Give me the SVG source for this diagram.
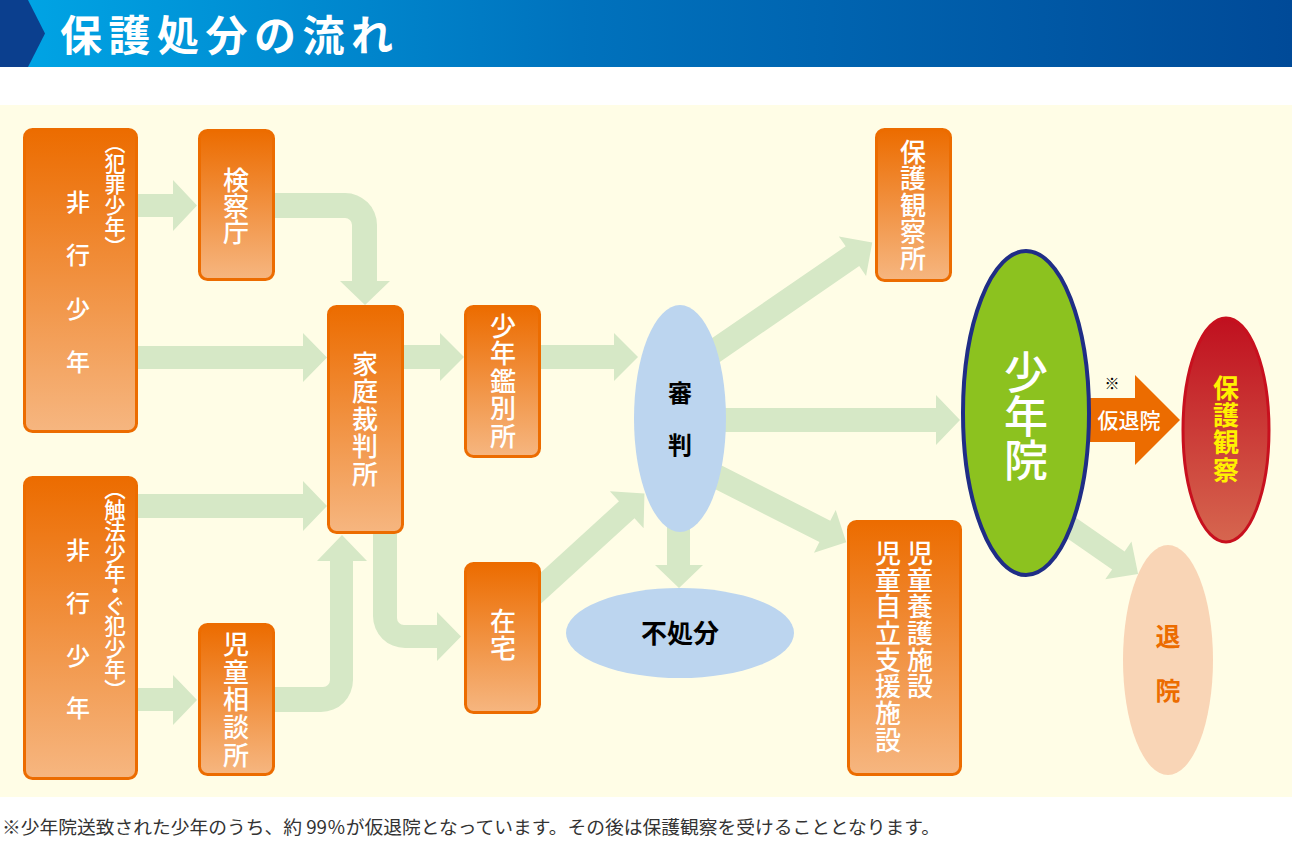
<svg xmlns="http://www.w3.org/2000/svg" width="1292" height="842" viewBox="0 0 1292 842">
<defs>
<linearGradient id="hdr" x1="0" y1="0" x2="1" y2="0">
<stop offset="0" stop-color="#00a6e6"/>
<stop offset="0.45" stop-color="#0072bd"/>
<stop offset="1" stop-color="#004a98"/>
</linearGradient>
<linearGradient id="box" x1="0" y1="0" x2="0" y2="1">
<stop offset="0" stop-color="#ec6c00"/>
<stop offset="1" stop-color="#f6b680"/>
</linearGradient>
<linearGradient id="red" x1="0" y1="0" x2="0" y2="1">
<stop offset="0" stop-color="#c0101f"/>
<stop offset="1" stop-color="#d6664f"/>
</linearGradient>
<style>
.bx{fill:url(#box);stroke:#ec6c00;stroke-width:3}
.ar{fill:#d6e8c6}
.t{font-family:"Noto Sans CJK JP","Noto Sans CJK SC",sans-serif}
.v{writing-mode:vertical-rl;font-family:"Noto Sans CJK JP","Noto Sans CJK SC",sans-serif}
.w{fill:#ffffff;font-weight:500}
.p{font-feature-settings:"vpal"}
</style>
</defs>
<rect x="0" y="0" width="1292" height="842" fill="#ffffff"/>
<g id="header">
<rect x="0" y="0" width="1292" height="67" fill="url(#hdr)"/>
<polygon points="0,0 28,0 45,33.5 28,67 0,67" fill="#0b3f8e"/>
<text class="t" x="60" y="51" font-size="42" font-weight="bold" fill="#ffffff" letter-spacing="6.5">保護処分の流れ</text>
</g>
<rect x="0" y="105" width="1292" height="692" fill="#fffde6"/>
<g id="connectors">
<path class="ar" d="M137,194 H173 V180 L197,205.5 L173,231 V217 H137 Z"/>
<path class="ar" d="M137,346 H303 V333 L327,357.5 L303,382 V369 H137 Z"/>
<path class="ar" d="M274,193 H345 A32,32 0 0 1 377,225 V281 H390 L365,305 L340,281 H352 V225 A7,7 0 0 0 345,218 H274 Z"/>
<path class="ar" d="M137,494 H303 V481 L327,506 L303,531 V518 H137 Z"/>
<path class="ar" d="M137,688 H173 V675 L197,700 L173,725 V711 H137 Z"/>
<path class="ar" d="M274,687 H323 A7,7 0 0 0 330,680 V561 H317 L342,535 L367,561 H353 V680 A32,32 0 0 1 321,712 H274 Z"/>
<path class="ar" d="M373,530 H397 V618 A7,7 0 0 0 404,625 H437 V612 L461,636.5 L437,661 V648 H405 A32,32 0 0 1 373,616 Z"/>
<path class="ar" d="M403,345 H440 V333 L464,357 L440,381 V369 H403 Z"/>
<path class="ar" d="M540,345 H614 V333 L638,357 L614,381 V369 H540 Z"/>
<path class="ar" transform="translate(530,598) rotate(-42.4)" d="M0,-11.5 H131 V-25 L155,0 L131,25 V11.5 H0 Z"/>
<path class="ar" d="M667,515 H690 V565 H703 L679,588 L655,565 H667 Z"/>
<path class="ar" transform="translate(700,361) rotate(-34.5)" d="M0,-12 H185 V-24 L209,0 L185,24 V12 H0 Z"/>
<path class="ar" d="M715,408 H936 V395 L960,420 L936,445 V432 H715 Z"/>
<path class="ar" transform="translate(700,468) rotate(26.9)" d="M0,-12 H140 V-24 L164,0 L140,24 V12 H0 Z"/>
<path class="ar" transform="translate(1060,520) rotate(34.7)" d="M0,-11 H71 V-23 L95,0 L71,23 V11 H0 Z"/>
<path d="M1085,398 H1135 V375 L1180,420 L1135,465 V442 H1085 Z" fill="#ec6c00"/>
<text class="t" x="1129" y="428" font-size="21" font-weight="500" fill="#ffffff" text-anchor="middle">仮退院</text>
<text class="t" x="1112" y="389" font-size="15" fill="#000000" text-anchor="middle">※</text>
</g>
<g id="n-hikou1">
<rect class="bx" x="24.5" y="129.5" width="112" height="302" rx="8"/>
<text class="v w p" x="115" y="142" font-size="21">（犯罪少年）</text>
<text class="v w" x="78" y="190" font-size="24" letter-spacing="29.3">非行少年</text>
</g>
<g id="n-kensatsu">
<rect class="bx" x="199.5" y="130.5" width="74" height="149" rx="8"/>
<text class="v w" x="236" y="167" font-size="26">検察庁</text>
</g>
<g id="n-hikou2">
<rect class="bx" x="24.5" y="477.5" width="112" height="301" rx="8"/>
<text class="v w p" x="115" y="488" font-size="21.5">（触法少年・ぐ犯少年）</text>
<text class="v w" x="78" y="538" font-size="24" letter-spacing="28.7">非行少年</text>
</g>
<g id="n-jidousoudan">
<rect class="bx" x="199.5" y="624.5" width="74" height="150" rx="8"/>
<text class="v w" x="236" y="631" font-size="26" letter-spacing="1.75">児童相談所</text>
</g>
<g id="n-katei">
<rect class="bx" x="328.5" y="306.5" width="74" height="226" rx="8"/>
<text class="v w" x="365" y="351" font-size="26" letter-spacing="1.5">家庭裁判所</text>
</g>
<g id="n-kanbetsu">
<rect class="bx" x="465.5" y="306.5" width="74" height="150" rx="8"/>
<text class="v w" x="503" y="313" font-size="26" letter-spacing="1.5">少年鑑別所</text>
</g>
<g id="n-zaitaku">
<rect class="bx" x="465.5" y="563.5" width="74" height="149" rx="8"/>
<text class="v w" x="503" y="608" font-size="26" letter-spacing="1">在宅</text>
</g>
<g id="n-shinpan">
<ellipse cx="680" cy="418.5" rx="46" ry="113.5" fill="#bcd5ef"/>
<text class="v" x="680" y="381" font-size="24" font-weight="bold" letter-spacing="28" fill="#000000">審判</text>
</g>
<g id="n-fushobun">
<ellipse cx="680" cy="633" rx="114" ry="45" fill="#bcd5ef"/>
<text class="t" x="680" y="643" font-size="26" font-weight="bold" fill="#000000" text-anchor="middle">不処分</text>
</g>
<g id="n-hogokansatsujo">
<rect class="bx" x="876.5" y="129.5" width="74" height="151" rx="8"/>
<text class="v w" x="913" y="139" font-size="26" letter-spacing="0.5">保護観察所</text>
</g>
<g id="n-shisetsu">
<rect class="bx" x="848.5" y="521.5" width="112" height="253" rx="8"/>
<text class="v w" x="920" y="540" font-size="26" letter-spacing="0.7">児童養護施設</text>
<text class="v w" x="888" y="540" font-size="26" letter-spacing="0.7">児童自立支援施設</text>
</g>
<g id="n-shounenin">
<ellipse cx="1026" cy="413" rx="63" ry="162" fill="#8cc21f" stroke="#1f2d86" stroke-width="4"/>
<text class="v w" x="1026" y="350" font-size="44">少年院</text>
</g>
<g id="n-hogokansatsu">
<ellipse cx="1226" cy="430" rx="43" ry="112" fill="url(#red)" stroke="#c8101e" stroke-width="3"/>
<text class="v" x="1226" y="375" font-size="26" font-weight="bold" letter-spacing="1.3" fill="#fff100">保護観察</text>
</g>
<g id="n-taiin">
<ellipse cx="1168" cy="660" rx="45" ry="115" fill="#f9d5b6"/>
<text class="v" x="1168" y="623.5" font-size="25" font-weight="bold" letter-spacing="29" fill="#ec6c00">退院</text>
</g>
<text class="t" x="2" y="834" font-size="18" fill="#333333" textLength="938" lengthAdjust="spacingAndGlyphs">※少年院送致された少年のうち、約 99％が仮退院となっています。その後は保護観察を受けることとなります。</text>
</svg>
